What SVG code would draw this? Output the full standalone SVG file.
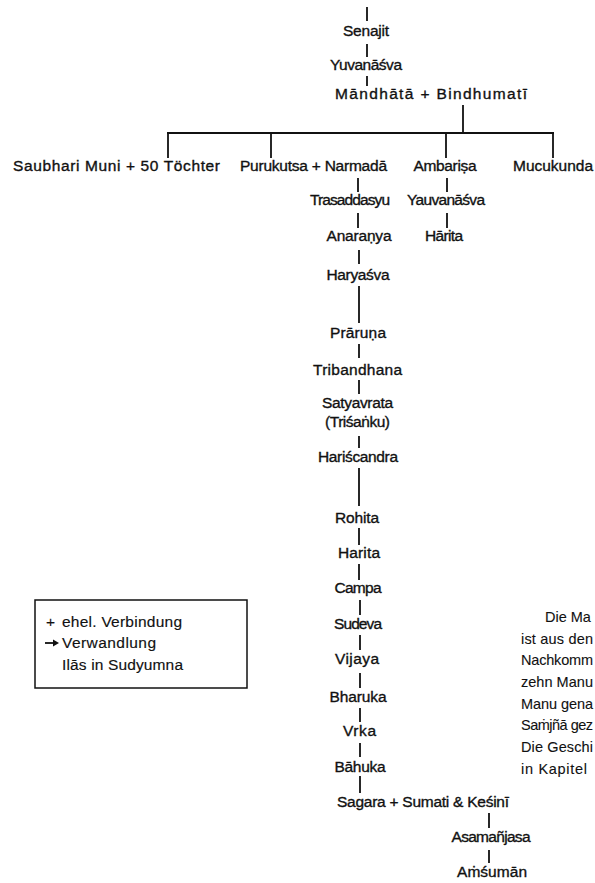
<svg xmlns="http://www.w3.org/2000/svg" width="595" height="883" viewBox="0 0 595 883">
<style>
.n{font-family:"Liberation Sans","DejaVu Sans",sans-serif;font-size:15.5px;fill:#111;text-anchor:middle;stroke:#111;stroke-width:0.35}
.s{text-anchor:start}
.c line{stroke:#111;stroke-width:1.8}
.lg{font-family:"Liberation Sans","DejaVu Sans",sans-serif;font-size:15.5px;fill:#111;stroke:#111;stroke-width:0.15}
.p{font-family:"Liberation Sans","DejaVu Sans",sans-serif;font-size:14.5px;fill:#111;stroke:#111;stroke-width:0.1}
</style>
<rect width="595" height="883" fill="#fff"/>
<g class="c" id="connectors">
<line x1="367" y1="7" x2="367" y2="21"/>
<line x1="367" y1="44" x2="367" y2="57"/>
<line x1="367" y1="76" x2="367" y2="86"/>
<line x1="463" y1="105" x2="463" y2="133"/>
<line x1="167" y1="133" x2="554" y2="133"/>
<line x1="168" y1="133" x2="168" y2="158"/>
<line x1="271" y1="133" x2="271" y2="158"/>
<line x1="446" y1="133" x2="446" y2="158"/>
<line x1="553" y1="133" x2="553" y2="158"/>
<line x1="358" y1="178" x2="358" y2="192"/>
<line x1="447" y1="178" x2="447" y2="192"/>
<line x1="358" y1="213" x2="358" y2="228"/>
<line x1="447" y1="213" x2="447" y2="228"/>
<line x1="359" y1="250" x2="359" y2="264"/>
<line x1="359" y1="286" x2="359" y2="323"/>
<line x1="359" y1="344" x2="359" y2="358"/>
<line x1="359" y1="380" x2="359" y2="394"/>
<line x1="359" y1="436" x2="359" y2="448"/>
<line x1="359" y1="468" x2="359" y2="506"/>
<line x1="359" y1="528" x2="359" y2="545"/>
<line x1="359" y1="564" x2="359" y2="580"/>
<line x1="360" y1="600" x2="360" y2="615"/>
<line x1="360" y1="635" x2="360" y2="650"/>
<line x1="360" y1="673" x2="360" y2="688"/>
<line x1="360" y1="708" x2="360" y2="722"/>
<line x1="360" y1="743" x2="360" y2="757"/>
<line x1="360" y1="776" x2="360" y2="793"/>
<line x1="489" y1="813" x2="489" y2="828"/>
<line x1="489" y1="850" x2="489" y2="863"/>
</g>
<g id="senajit"><text class="n" x="366" y="36" textLength="46">Senajit</text></g>
<g id="yuvanasva"><text class="n" x="366" y="70" textLength="72">Yuvanāśva</text></g>
<g id="mandhata"><text class="n" x="431" y="99" textLength="192">Māndhātā + Bindhumatī</text></g>
<g id="saubhari"><text class="n s" x="13" y="171" textLength="207">Saubhari Muni  +  50 Töchter</text></g>
<g id="purukutsa"><text class="n s" x="240" y="171" textLength="147">Purukutsa + Narmadā</text></g>
<g id="ambarisa"><text class="n" x="445" y="171" textLength="63">Ambariṣa</text></g>
<g id="mucukunda"><text class="n s" x="513" y="171" textLength="80">Mucukunda</text></g>
<g id="trasaddasyu"><text class="n" x="350" y="205" textLength="80">Trasaddasyu</text></g>
<g id="yauvanasva"><text class="n" x="446" y="205" textLength="78">Yauvanāśva</text></g>
<g id="anaranya"><text class="n" x="359" y="241" textLength="65">Anaraṇya</text></g>
<g id="harita1"><text class="n" x="444" y="241" textLength="38">Hārita</text></g>
<g id="haryasva"><text class="n" x="358" y="280" textLength="63">Haryaśva</text></g>
<g id="praruna"><text class="n" x="358" y="338" textLength="56">Prāruṇa</text></g>
<g id="tribandhana"><text class="n" x="357.5" y="375" textLength="89">Tribandhana</text></g>
<g id="satyavrata"><text class="n" x="357.5" y="408" textLength="71">Satyavrata</text><text class="n" x="357.5" y="427" textLength="65">(Triśaṅku)</text></g>
<g id="hariscandra"><text class="n" x="358" y="462" textLength="80">Hariścandra</text></g>
<g id="rohita"><text class="n" x="357" y="523" textLength="44">Rohita</text></g>
<g id="harita2"><text class="n" x="359" y="558" textLength="42">Harita</text></g>
<g id="campa"><text class="n" x="358" y="593" textLength="47">Campa</text></g>
<g id="sudeva"><text class="n" x="358" y="629" textLength="48">Sudeva</text></g>
<g id="vijaya"><text class="n" x="357" y="664" textLength="44">Vijaya</text></g>
<g id="bharuka"><text class="n" x="358" y="702" textLength="57">Bharuka</text></g>
<g id="vrka"><text class="n" x="359.5" y="736" textLength="33">Vrka</text></g>
<g id="bahuka"><text class="n" x="360" y="772" textLength="51">Bāhuka</text></g>
<g id="sagara"><text class="n s" x="337" y="807" textLength="172">Sagara + Sumati &amp; Keśinī</text></g>
<g id="asamanjasa"><text class="n" x="491" y="842" textLength="79">Asamañjasa</text></g>
<g id="amsuman"><text class="n" x="492" y="877" textLength="70">Aṁśumān</text></g>
<g id="legend">
<rect x="35" y="600" width="212" height="88" fill="#fff" stroke="#111" stroke-width="1.5"/>
<text class="lg" x="46" y="627">+</text>
<text class="lg" x="62" y="627" textLength="120">ehel. Verbindung</text>
<line x1="45" y1="643" x2="56" y2="643" stroke="#111" stroke-width="1.8"/>
<path d="M53,639.5 L59,643 L53,646.5 Z" fill="#111"/>
<text class="lg" x="62" y="648" textLength="94">Verwandlung</text>
<text class="lg" x="62" y="670" textLength="121">Ilās in Sudyumna</text>
</g>
<g id="note">
<text class="p" x="545" y="622">Die Ma</text>
<text class="p" x="521" y="644" textLength="72">ist aus den</text>
<text class="p" x="521" y="665" textLength="72">Nachkomm</text>
<text class="p" x="521" y="687" textLength="72">zehn Manu</text>
<text class="p" x="521" y="709" textLength="72">Manu gena</text>
<text class="p" x="521" y="730" textLength="72">Saṁjñā gez</text>
<text class="p" x="521" y="752" textLength="72">Die Geschi</text>
<text class="p" x="521" y="774" textLength="66">in Kapitel</text>
</g>
</svg>
